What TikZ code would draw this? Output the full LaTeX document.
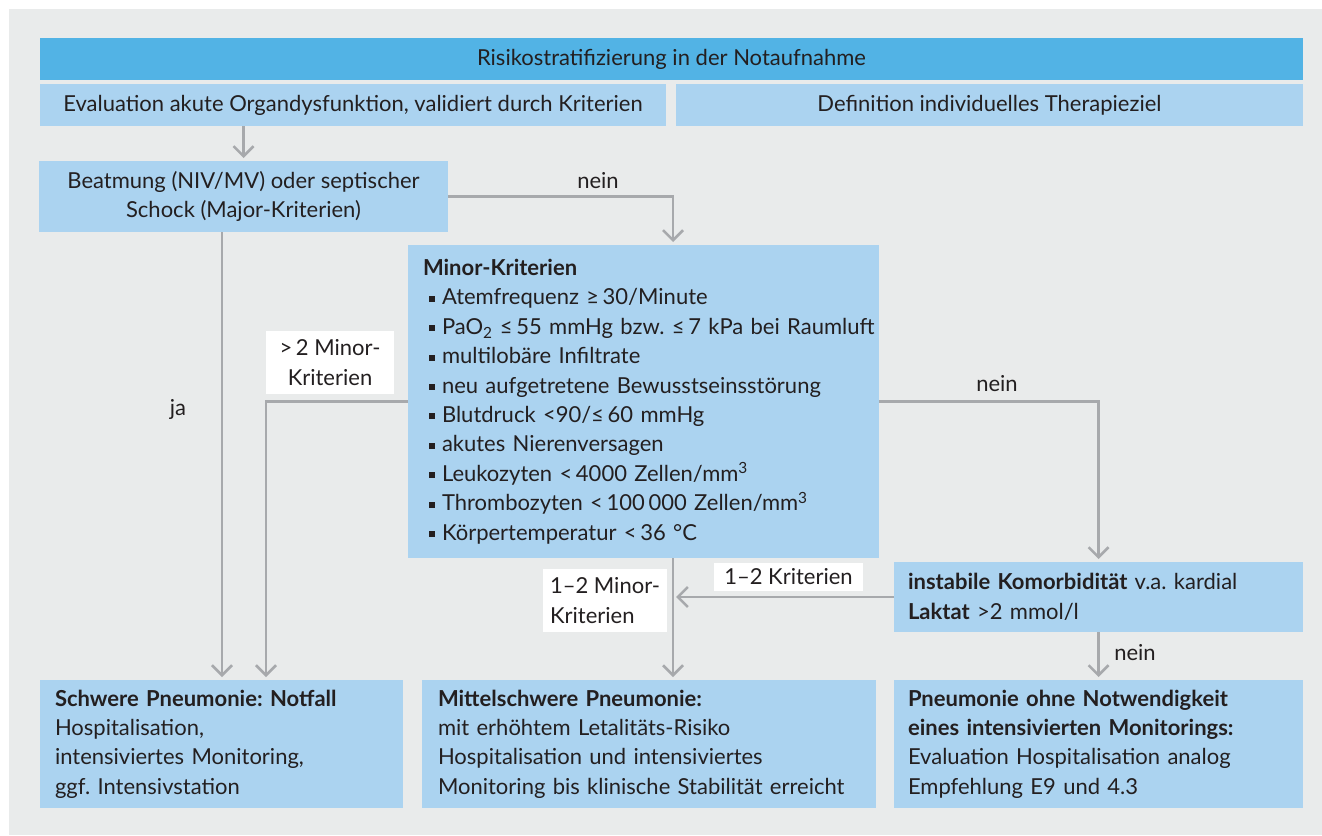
\documentclass[tikz,border=0pt]{standalone}
\usepackage{fontspec}
\setmainfont{Lato}
\usetikzlibrary{arrows.meta}
\definecolor{hell}{HTML}{ABD3F0}
\definecolor{dunkel}{HTML}{52B3E5}
\definecolor{grund}{HTML}{E9EBEB}
\definecolor{linie}{HTML}{A7A9AC}
\definecolor{schrift}{HTML}{231F20}
\newcommand{\pkt}{\hspace*{6pt}\rule[3pt]{6pt}{6pt}\hspace{7pt}}
\frenchspacing

\begin{document}
\begin{tikzpicture}[x=1pt,y=-1pt,
  every node/.style={font=\fontsize{22}{29.4}\selectfont, text=schrift, outer sep=0pt},
  feld/.style={fill=hell, inner sep=0pt, anchor=north west},
  kasten/.style={fill=hell, inner xsep=15pt, inner ysep=0pt, anchor=north west, align=left},
  etikett/.style={fill=white, inner sep=0pt, align=center},
  pfeil/.style={draw=linie, line width=2.5pt, -{Straight Barb[length=10pt,width=20pt]}, shorten >=3pt}]
\useasboundingbox (0,0) rectangle (1322,835);
\fill[white] (0,0) rectangle (1322,835);
\fill[grund] (9,9) rectangle (1322,835);

\node[feld, fill=dunkel, minimum width=1263pt, minimum height=42pt] (head) at (40,38) {Risikostratifizierung in der Notaufnahme};
\node[feld, minimum width=626pt, minimum height=42pt] (evalorg) at (40,84) {Evaluation akute Organdysfunktion, validiert durch Kriterien};
\node[feld, minimum width=627pt, minimum height=42pt] (ziel) at (676,84) {Definition individuelles Therapieziel};
\node[feld, minimum width=409pt, minimum height=71pt, align=center] (beat) at (39,161) {Beatmung (NIV/MV) oder septischer\\Schock (Major-Kriterien)};

\node[kasten, text width=441pt, minimum height=313pt] (minor) at (408,245) {\textbf{Minor-Kriterien}\\
\pkt Atemfrequenz ≥\,30/Minute\\
\mbox{\pkt PaO\textsubscript{2} ≤\,55 mmHg bzw. ≤\,7 kPa bei Raumluft}\\
\pkt multilobäre Infiltrate\\
\pkt neu aufgetretene Bewusstseinsstörung\\
\pkt Blutdruck <90/≤\,60 mmHg\\
\pkt akutes Nierenversagen\\
\pkt Leukozyten <\,4000 Zellen/mm\textsuperscript{3}\\
\pkt Thrombozyten <\,100\,000 Zellen/mm\textsuperscript{3}\\
\pkt Körpertemperatur <\,36 °C};

\node[kasten, inner xsep=14pt, text width=381pt, minimum height=70pt] (komorb) at (894,562) {\textbf{instabile Komorbidität} v.a. kardial\\\textbf{Laktat} >2 mmol/l};

\node[kasten, text width=333pt, minimum height=128pt] (schwer) at (40,680) {\textbf{Schwere Pneumonie: Notfall}\\Hospitalisation,\\intensiviertes Monitoring,\\ggf. Intensivstation};
\node[kasten, inner xsep=16pt, text width=422pt, minimum height=128pt] (mittel) at (422,680) {\textbf{Mittelschwere Pneumonie:}\\mit erhöhtem Letalitäts-Risiko\\Hospitalisation und intensiviertes\\Monitoring bis klinische Stabilität erreicht};
\node[kasten, inner xsep=14pt, text width=381pt, minimum height=128pt] (ohne) at (894,680) {\textbf{Pneumonie ohne Notwendigkeit}\\\textbf{eines intensivierten Monitorings:}\\Evaluation Hospitalisation analog\\Empfehlung E9 und 4.3};

\coordinate (mx) at (673,0);
\coordinate (jx) at (222,0);
\coordinate (gx) at (266,0);
\draw[pfeil] (beat.north |- evalorg.south) -- (beat.north);
\draw[pfeil] (beat.east) -| (mx |- minor.north);
\draw[pfeil] (jx |- beat.south) -- (jx |- schwer.north);
\draw[pfeil] (minor.west) -| (gx |- schwer.north);
\draw[pfeil] (minor.east) -| (komorb.north);
\draw[pfeil] (komorb.west) -- (mx |- komorb.west);
\draw[pfeil] (mx |- minor.south) -- (mx |- mittel.north);
\draw[pfeil] (komorb.south) -- (ohne.north);

\node (nein1) at (598,181) {nein};
\node (ja) at (178,409) {ja};
\node (nein2) at (997,384) {nein};
\node (nein3) at (1135,653) {nein};
\node[etikett, minimum width=128pt, minimum height=63pt] (mehrzwei) at (330,362.5) {>\,2 Minor-\\Kriterien};
\node[etikett, minimum width=149pt, minimum height=28pt] (einszwei) at (788.5,577) {1–2 Kriterien};
\node[etikett, minimum width=124pt, minimum height=63pt, align=left] (einszweimin) at (605,600.5) {1–2 Minor-\\Kriterien};
\end{tikzpicture}
\end{document}
